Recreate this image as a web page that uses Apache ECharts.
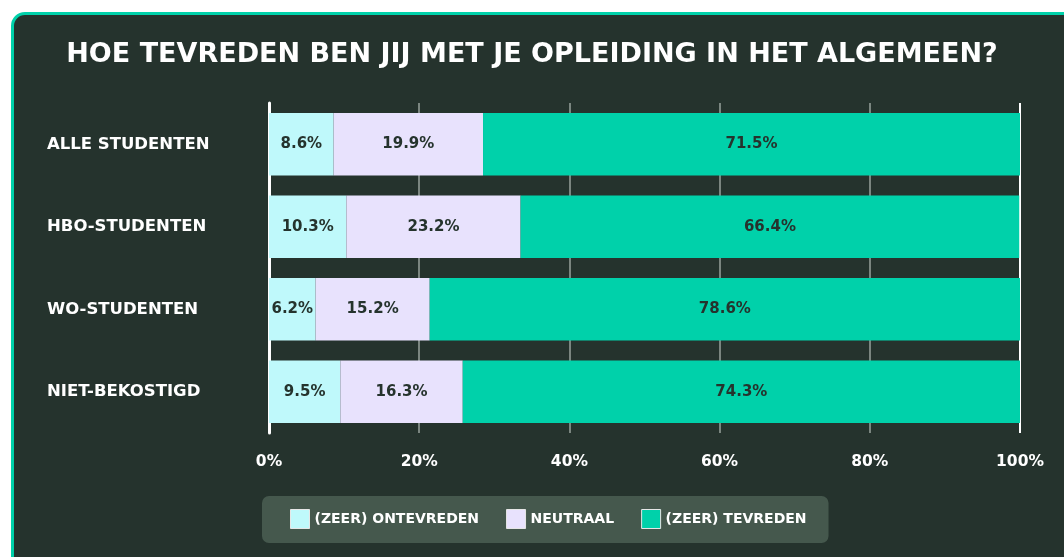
<!DOCTYPE html>
<html>
<head>
<meta charset="utf-8">
<script src="https://cdn.jsdelivr.net/npm/echarts@6/dist/echarts.min.js"></script>
<style>
  html, body { margin: 0; padding: 0; background: #fff; overflow: hidden; }
  #card {
    position: absolute; left: 11px; top: 12px; width: 1080px; height: 580px;
    background: #25332d; border: 3px solid #00d1aa; border-radius: 14px; box-sizing: border-box;
  }
  #main { position: absolute; left: 0; top: 0; width: 1064px; height: 557px; }
</style>
</head>
<body>
<div id="card"></div>
<div id="main"></div>
<script>
var groepen = ['ALLE STUDENTEN', 'HBO-STUDENTEN', 'WO-STUDENTEN', 'NIET-BEKOSTIGD'];
var ontevreden = [8.6, 10.3, 6.2, 9.5];
var neutraal = [19.9, 23.2, 15.2, 16.3];
var tevreden = [71.5, 66.4, 78.6, 74.3];
var reeksNamen = ['(ZEER) ONTEVREDEN', 'NEUTRAAL', '(ZEER) TEVREDEN'];
var kleuren = ['#bff9fb', '#e8e2fd', '#00d1aa'];

var font = 'DejaVu Sans';
var chart = echarts.init(document.getElementById('main'));

function reeks(naam, data, kleur) {
    return {
        name: naam,
        type: 'bar',
        stack: 'totaal',
        data: data,
        barWidth: '76%',
        itemStyle: { color: kleur },
        label: {
            show: true,
            position: 'inside',
            formatter: '{c}%',
            color: '#25332d',
            fontFamily: font,
            fontWeight: 'bold',
            fontSize: 15
        }
    };
}

var option = {
    backgroundColor: 'transparent',
    title: {
        text: 'HOE TEVREDEN BEN JIJ MET JE OPLEIDING IN HET ALGEMEEN?',
        left: 'center',
        top: 36,
        textStyle: { color: '#fff', fontFamily: font, fontWeight: 'bold', fontSize: 27 }
    },
    legend: {
        left: 262,
        top: 496,
        padding: [13, 22, 14, 28],
        backgroundColor: '#45584d',
        borderRadius: 7,
        itemWidth: 19,
        itemHeight: 19,
        itemGap: 27,
        icon: 'rect',
        data: reeksNamen,
        itemStyle: { borderColor: '#e6e6e6', borderWidth: 1 },
        textStyle: { color: '#fff', fontFamily: font, fontWeight: 'bold', fontSize: 14 }
    },
    grid: { left: 269, right: 44, top: 103, bottom: 124 },
    xAxis: {
        type: 'value',
        min: 0,
        max: 100,
        interval: 20,
        axisLine: { show: false },
        axisTick: { show: false },
        axisLabel: {
            formatter: '{value}%',
            margin: 21,
            color: '#fff',
            fontFamily: font,
            fontWeight: 'bold',
            fontSize: 15.5
        },
        splitLine: {
            lineStyle: {
                color: ['#7b8680', '#7b8680', '#7b8680', '#7b8680', '#7b8680', '#ffffff'],
                width: 2
            }
        }
    },
    yAxis: {
        type: 'category',
        data: groepen,
        inverse: true,
        axisLine: { show: true, lineStyle: { color: '#fff', width: 3 } },
        axisTick: { show: false },
        axisLabel: {
            align: 'left',
            margin: 222,
            color: '#fff',
            fontFamily: font,
            fontWeight: 'bold',
            fontSize: 16.5
        }
    },
    series: [
        reeks(reeksNamen[0], ontevreden, kleuren[0]),
        reeks(reeksNamen[1], neutraal, kleuren[1]),
        reeks(reeksNamen[2], tevreden, kleuren[2])
    ]
};
chart.setOption(option);
</script>
</body>
</html>
